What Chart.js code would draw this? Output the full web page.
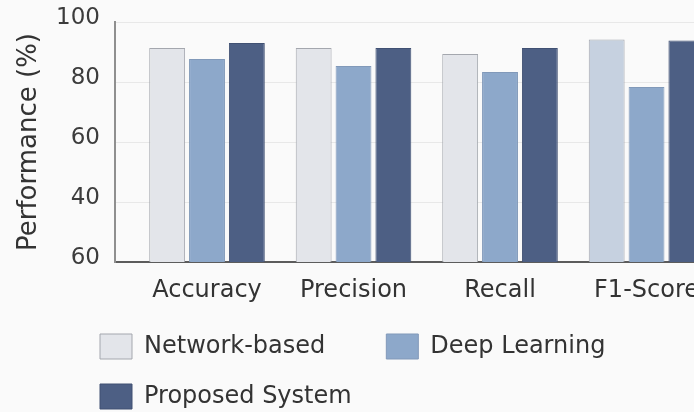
<!DOCTYPE html>
<html>
<head>
<meta charset="utf-8">
<script src="https://cdn.jsdelivr.net/npm/chart.js@4.4.1/dist/chart.umd.min.js"></script>
<style>
  html, body { margin: 0; padding: 0; background: #fafafa; overflow: hidden; }
  #wrap { position: relative; width: 694px; height: 419px; }
</style>
</head>
<body>
<div id="wrap"><canvas id="chart"></canvas></div>
<script>
const categories = ['Accuracy', 'Precision', 'Recall', 'F1-Score'];

const networkBased = [91.3, 91.3, 89.3, 94.2];
const deepLearning = [87.7, 85.3, 83.3, 78.3];
const proposedSystem = [93.0, 91.3, 91.3, 93.8];

// tick labels as printed on the original axis (bottom one really reads 60)
const yTickLabels = ['60', '40', '60', '80', '100'];

const font = 'DejaVu Sans';

// category scale window, so groups sit where the original puts them
const xStart = -0.628;
const xRange = 3.952;

const legendShift = {
  id: 'legendShift',
  afterLayout(chart) {
    chart.legend.left = 75;
  }
};

const data = {
  labels: categories,
  datasets: [{
    label: 'Network-based',
    data: networkBased,
    backgroundColor: ['#e3e5ea', '#e3e5ea', '#e3e5ea', '#c6d1e0'],
    borderColor: '#a4a7ae',
    borderWidth: 1
  }, {
    label: 'Deep Learning',
    data: deepLearning,
    backgroundColor: '#8da8ca',
    borderColor: '#8199b9',
    borderWidth: 1
  }, {
    label: 'Proposed System',
    data: proposedSystem,
    backgroundColor: '#4d5f84',
    borderColor: '#415173',
    borderWidth: 1
  }]
};

const config = {
  type: 'bar',
  data: data,
  plugins: [legendShift],
  options: {
    responsive: true,
    maintainAspectRatio: false,
    animation: false,
    categoryPercentage: 0.816,
    barPercentage: 0.9,
    layout: { padding: { top: 22, left: 0, right: 0, bottom: 0 } },
    plugins: {
      tooltip: { enabled: false },
      legend: {
        position: 'bottom',
        align: 'start',
        labels: {
          font: { family: font, size: 24 },
          color: '#333',
          boxWidth: 32,
          boxHeight: 25,
          padding: 25,
          generateLabels(chart) {
            const items = Chart.defaults.plugins.legend.labels.generateLabels(chart);
            items[0].text += '\u2003\u2002';
            return items;
          }
        }
      }
    },
    scales: {
      x: {
        grid: { display: false },
        border: { display: true, color: '#5c5c5c', width: 2 },
        ticks: {
          font: { family: font, size: 24 },
          color: '#333',
          padding: 6,
          autoSkip: false,
          maxRotation: 0
        },
        afterBuildTicks(scale) {
          scale._startValue = xStart;
          scale._valueRange = xRange;
        },
        afterFit(scale) {
          scale.height = 47;
          scale.paddingLeft = 0;
          scale.paddingRight = 0;
        }
      },
      y: {
        min: 20,
        max: 100,
        grid: { color: '#e8e8e8', lineWidth: 1, drawTicks: false },
        border: { display: true, color: '#8f8f8f', width: 2 },
        ticks: {
          stepSize: 20,
          font: { family: font, size: 23 },
          color: '#3c3c3c',
          padding: 15,
          labelOffset: -4,
          callback: (value, index) => yTickLabels[index]
        },
        title: {
          display: true,
          text: 'Performance (%)',
          font: { family: font, size: 26 },
          color: '#333',
          padding: { top: 14, bottom: 0 }
        },
        afterFit(scale) {
          scale.width = 115;
          scale.paddingTop = 0;
          scale.paddingBottom = 0;
        }
      }
    }
  }
};

new Chart(document.getElementById('chart'), config);
</script>
</body>
</html>
